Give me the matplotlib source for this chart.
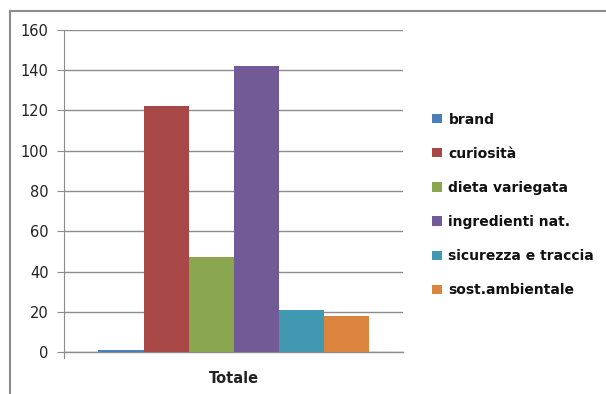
import matplotlib.pyplot as plt
from matplotlib.lines import Line2D

# ==========================
# Data
# ==========================

categories = [
    "brand",
    "curiosità",
    "dieta variegata",
    "ingredienti nat.",
    "sicurezza e traccia",
    "sost.ambientale",
]
values = [1, 122, 47, 142, 21, 18]
colors = ["#4a7ebb", "#a84846", "#8aa64e", "#725a96", "#4099b1", "#db843d"]
yticks = [0, 20, 40, 60, 80, 100, 120, 140, 160]
group_label = "Totale"

# ==========================
# Plot
# ==========================

fig = plt.figure(figsize=(6.06, 3.94), dpi=100)
ax = fig.add_axes([64 / 606, 1 - 352 / 394, 339 / 606, 322 / 394])

w = 45 / 339
n = len(values)
for i, (cat, val, col) in enumerate(zip(categories, values, colors)):
    ax.bar(0.5 + (i - (n - 1) / 2) * w, val, width=w, color=col,
           label=cat, zorder=3)

ax.set_xlim(0, 1)
ax.set_ylim(0, 160)
ax.set_yticks(yticks)
ax.set_yticklabels([str(t) for t in yticks], fontsize=10.5,
                   family="DejaVu Sans", color="#222222")
ax.yaxis.grid(True, color="#8c8c8c", linewidth=1, zorder=0)
ax.axhline(0, color="#8c8c8c", linewidth=1, zorder=1, clip_on=False)
ax.tick_params(axis="y", length=5, color="#8c8c8c", pad=6)
ax.set_xticks([0.5])
ax.set_xticklabels([group_label], fontsize=10.5, family="DejaVu Sans",
                   fontweight="bold", color="#222222")
ax.tick_params(axis="x", length=0, pad=14)

for s in ["top", "right", "bottom"]:
    ax.spines[s].set_visible(False)
ax.spines["left"].set_color("#8c8c8c")
ax.spines["left"].set_bounds(-3, 160)

leg = fig.legend(
    loc="upper left",
    bbox_to_anchor=(420 / 606, 1 - 100 / 394),
    frameon=False,
    handlelength=0.65,
    handleheight=0.65,
    handletextpad=0.5,
    labelspacing=1.45,
    prop={"family": "DejaVu Sans", "size": 10, "weight": "bold"},
)
for t in leg.get_texts():
    t.set_color("#111111")

# outer chart border (left and top only visible)
fig.add_artist(Line2D([9.5 / 606, 9.5 / 606], [0, 1 - 10.5 / 394],
                      transform=fig.transFigure, color="#8c8c8c", lw=1.5))
fig.add_artist(Line2D([9.5 / 606, 1], [1 - 10.5 / 394, 1 - 10.5 / 394],
                      transform=fig.transFigure, color="#8c8c8c", lw=1.5))

plt.savefig("out.png", dpi=100)
